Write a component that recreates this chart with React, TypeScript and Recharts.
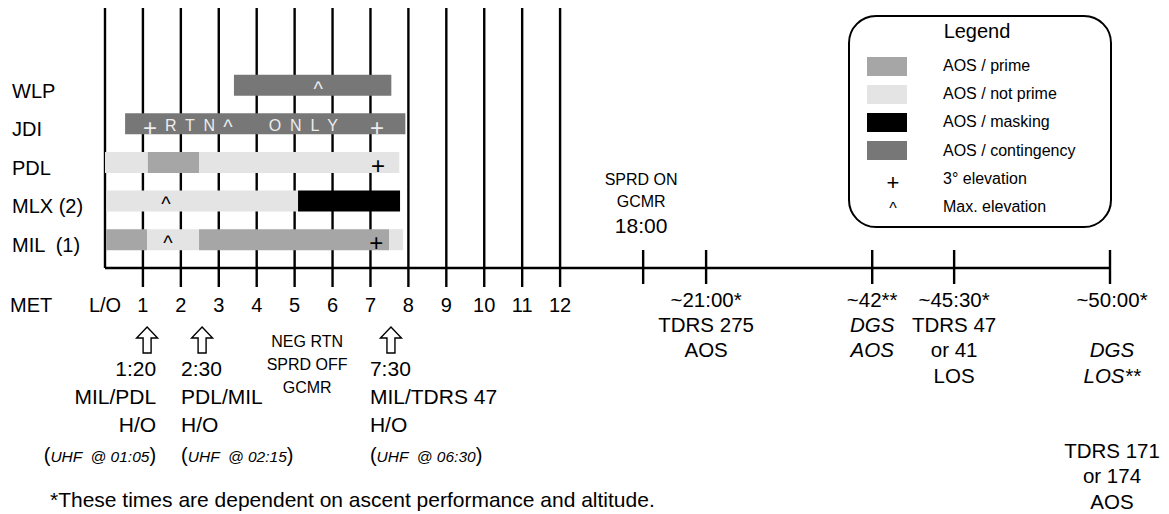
import React from 'react';
import {
  ComposedChart,
  Bar,
  Cell,
  XAxis,
  YAxis,
  CartesianGrid,
  ReferenceDot,
} from 'recharts';

const FONT = '"Liberation Sans", Arial, Helvetica, sans-serif';

// ground stations, top to bottom
const stations = ['WLP', 'JDI', 'PDL', 'MLX (2)', 'MIL  (1)'];

type Kind = 'prime' | 'notPrime' | 'masking' | 'contingency';
type Segment = { from: number; to: number; kind: Kind };

// coverage in minutes after lift-off
const wlpCoverage: Segment[] = [{ from: 3.4, to: 7.55, kind: 'contingency' }];
const jdiCoverage: Segment[] = [{ from: 0.53, to: 7.92, kind: 'contingency' }];
const pdlCoverage: Segment[] = [
  { from: 0, to: 1.13, kind: 'notPrime' },
  { from: 1.13, to: 2.48, kind: 'prime' },
  { from: 2.48, to: 7.76, kind: 'notPrime' },
];
const mlxCoverage: Segment[] = [
  { from: 0.04, to: 5.09, kind: 'notPrime' },
  { from: 5.09, to: 7.78, kind: 'masking' },
];
const milCoverage: Segment[] = [
  { from: 0.03, to: 1.11, kind: 'prime' },
  { from: 1.11, to: 2.48, kind: 'notPrime' },
  { from: 2.48, to: 7.49, kind: 'prime' },
  { from: 7.49, to: 7.86, kind: 'notPrime' },
];
const coverage = [wlpCoverage, jdiCoverage, pdlCoverage, mlxCoverage, milCoverage];

// + = 3 deg elevation, ^ = max elevation
const elevationMarks = [
  { station: 'WLP', at: 5.62, mark: '^' },
  { station: 'JDI', at: 1.19, mark: '+' },
  { station: 'JDI', at: 3.24, mark: '^' },
  { station: 'JDI', at: 7.17, mark: '+' },
  { station: 'PDL', at: 7.2, mark: '+' },
  { station: 'MLX (2)', at: 1.61, mark: '^' },
  { station: 'MIL  (1)', at: 1.66, mark: '^' },
  { station: 'MIL  (1)', at: 7.15, mark: '+' },
];
const jdiNote = [
  { at: 2.27, text: 'R T N' },
  { at: 5.26, text: 'O N L Y' },
];

const metMinutes = [0, 1, 2, 3, 4, 5, 6, 7, 8, 9, 10, 11, 12];
const metLabels = ['L/O', '1', '2', '3', '4', '5', '6', '7', '8', '9', '10', '11', '12'];

// axis is broken after 12 min: minute -> axis unit
const axisBreaks = [
  { minute: 0, unit: 0 },
  { minute: 12, unit: 12 },
  { minute: 18, unit: 14.19 },
  { minute: 21, unit: 15.85 },
  { minute: 42, unit: 20.23 },
  { minute: 45.5, unit: 22.39 },
  { minute: 50, unit: 26.5 },
];

const toUnit = (minute: number) => {
  const hit = axisBreaks.find((b) => b.minute === minute);
  if (hit) return hit.unit;
  for (let i = 1; i < axisBreaks.length; i++) {
    const a = axisBreaks[i - 1];
    const b = axisBreaks[i];
    if (minute <= b.minute) {
      return a.unit + ((minute - a.minute) / (b.minute - a.minute)) * (b.unit - a.unit);
    }
  }
  return axisBreaks[axisBreaks.length - 1].unit;
};

type Line = { text: string; italic?: boolean };
const events: { minute: number; above?: string[]; time?: string; lines: Line[] }[] = [
  { minute: 18, above: ['SPRD ON', 'GCMR'], time: '18:00', lines: [] },
  { minute: 21, lines: [{ text: '~21:00*' }, { text: 'TDRS 275' }, { text: 'AOS' }] },
  {
    minute: 42,
    lines: [{ text: '~42**' }, { text: 'DGS', italic: true }, { text: 'AOS', italic: true }],
  },
  {
    minute: 45.5,
    lines: [{ text: '~45:30*' }, { text: 'TDRS 47' }, { text: 'or 41' }, { text: 'LOS' }],
  },
  {
    minute: 50,
    lines: [
      { text: '~50:00*' },
      { text: '' },
      { text: 'DGS', italic: true },
      { text: 'LOS**', italic: true },
      { text: '' },
      { text: '' },
      { text: 'TDRS 171' },
      { text: 'or 174' },
      { text: 'AOS' },
    ],
  },
];

const handovers = [
  { at: 1.11, time: '1:20', link: 'MIL/PDL', uhf: '01:05', side: 'left' },
  { at: 2.56, time: '2:30', link: 'PDL/MIL', uhf: '02:15', side: 'right' },
  { at: 7.54, time: '7:30', link: 'MIL/TDRS 47', uhf: '06:30', side: 'right' },
];
const sprdOffNote = { at: 5.33, lines: ['NEG RTN', 'SPRD OFF', 'GCMR'] };

const legendItems: { label: string; kind?: Kind; mark?: string }[] = [
  { label: 'AOS / prime', kind: 'prime' },
  { label: 'AOS / not prime', kind: 'notPrime' },
  { label: 'AOS / masking', kind: 'masking' },
  { label: 'AOS / contingency', kind: 'contingency' },
  { label: '3° elevation', mark: '+' },
  { label: 'Max. elevation', mark: '^' },
];

const colors: Record<Kind, string> = {
  prime: '#a6a6a6',
  notPrime: '#e4e4e4',
  masking: '#000000',
  contingency: '#777777',
};

const chartRows = stations.map((station, i) => ({ station, segs: coverage[i] }));
const segSlots = [0, 1, 2, 3];
const lastUnit = axisBreaks[axisBreaks.length - 1].unit;
const same = (a: number, b: number) => Math.abs(a - b) < 1e-6;

const xTicks = [
  ...metMinutes,
  ...events.map((e) => toUnit(e.minute)),
  ...handovers.map((h) => h.at),
  sprdOffNote.at,
];

const arrowPath = (cx: number, top: number) =>
  `M${cx},${top} L${cx + 10.5},${top + 11} L${cx + 4},${top + 11} L${cx + 4},${top + 26} ` +
  `L${cx - 4},${top + 26} L${cx - 4},${top + 11} L${cx - 10.5},${top + 11} Z`;

const renderXTick = (props: any) => {
  const { x, y, payload } = props;
  const v = payload.value;

  const met = metMinutes.findIndex((m) => same(m, v));
  if (met >= 0) {
    return (
      <g>
        {v > 0 && <line x1={x} x2={x} y1={y} y2={y + 19} stroke="#000" strokeWidth={2.4} />}
        <text x={x} y={y + 44} textAnchor="middle" fontSize={20} fill="#000">
          {metLabels[met]}
        </text>
        {v === 0 && (
          <text x={x - 95} y={y + 44} fontSize={20} fill="#000">
            MET
          </text>
        )}
      </g>
    );
  }

  const ev = events.find((e) => same(toUnit(e.minute), v));
  if (ev) {
    const dx = same(v, lastUnit) ? 2 : 0;
    return (
      <g>
        <line x1={x} x2={x} y1={y - 18} y2={y + 16} stroke="#000" strokeWidth={2.4} />
        {ev.above &&
          ev.above.map((t, k) => (
            <text key={t} x={x - 2} y={y - 83 + k * 22} textAnchor="middle" fontSize={16} fill="#000">
              {t}
            </text>
          ))}
        {ev.time && (
          <text x={x - 2} y={y - 35} textAnchor="middle" fontSize={21} fill="#000">
            {ev.time}
          </text>
        )}
        {ev.lines.map((l, k) =>
          l.text ? (
            <text
              key={k}
              x={x + dx}
              y={y + 39 + k * 25.2}
              textAnchor="middle"
              fontSize={20.5}
              fontStyle={l.italic ? 'italic' : 'normal'}
              fill="#000"
            >
              {l.text}
            </text>
          ) : null,
        )}
      </g>
    );
  }

  const h = handovers.find((d) => same(d.at, v));
  if (h) {
    const left = h.side === 'left';
    const tx = left ? x + 9 : x - 21;
    const anchor = left ? 'end' : 'start';
    return (
      <g>
        <path d={arrowPath(x, y + 59)} fill="#fff" stroke="#000" strokeWidth={1.4} />
        <text x={tx} y={y + 108} textAnchor={anchor} fontSize={21} fill="#000">
          {h.time}
        </text>
        <text x={tx} y={y + 136} textAnchor={anchor} fontSize={21} fill="#000">
          {h.link}
        </text>
        <text x={tx} y={y + 164} textAnchor={anchor} fontSize={21} fill="#000">
          H/O
        </text>
        <text x={tx} y={y + 194} textAnchor={anchor} fontSize={20} fill="#000" style={{ whiteSpace: 'pre' }}>
          (
          <tspan fontStyle="italic" fontSize={15.5}>{`UHF  @ ${h.uhf}`}</tspan>)
        </text>
      </g>
    );
  }

  if (same(sprdOffNote.at, v)) {
    return (
      <g>
        {sprdOffNote.lines.map((t, k) => (
          <text key={t} x={x} y={y + 79 + k * 23} textAnchor="middle" fontSize={16} fill="#000">
            {t}
          </text>
        ))}
      </g>
    );
  }
  return <g />;
};

const renderYTick = (props: any) => {
  const { y, payload } = props;
  return (
    <text x={4} y={y + 12.5} fontSize={20} fill="#000" style={{ whiteSpace: 'pre' }}>
      {payload.value}
    </text>
  );
};

const markShape = (mark: string, light: boolean) => (p: any) => (
  <text
    x={p.cx}
    y={p.cy + (mark === '+' ? 12 : 10.5)}
    textAnchor="middle"
    fontSize={mark === '+' ? 24 : 20}
    fill={light ? '#ececec' : '#000'}
  >
    {mark}
  </text>
);

const noteShape = (text: string) => (p: any) => (
  <text
    x={p.cx}
    y={p.cy + 7.5}
    textAnchor="middle"
    fontSize={16}
    letterSpacing={2.2}
    fill="#ececec"
  >
    {text}
  </text>
);

const LegendBox = () => (
  <div
    style={{
      position: 'absolute',
      left: 840,
      top: 7,
      width: 264,
      height: 213,
      border: '2px solid #000',
      borderRadius: 28,
      boxSizing: 'border-box',
    }}
  >
    <div
      style={{
        position: 'absolute',
        left: -3,
        width: '100%',
        top: 4,
        textAlign: 'center',
        fontSize: 20,
        lineHeight: '20px',
      }}
    >
      Legend
    </div>
    {legendItems.map((item, i) => {
      const c = 49 + i * 28.2;
      return (
        <React.Fragment key={item.label}>
          {item.kind ? (
            <div
              style={{
                position: 'absolute',
                left: 17,
                top: c - 9.5,
                width: 40,
                height: 19,
                background: colors[item.kind],
              }}
            />
          ) : (
            <div
              style={{
                position: 'absolute',
                left: 23,
                width: 40,
                textAlign: 'center',
                top: item.mark === '+' ? c - 6 : c - 8,
                fontSize: item.mark === '+' ? 22 : 16,
                lineHeight: '20px',
              }}
            >
              {item.mark}
            </div>
          )}
          <div
            style={{
              position: 'absolute',
              left: 93,
              top: c - 8,
              fontSize: 16,
              lineHeight: '16px',
              whiteSpace: 'nowrap',
            }}
          >
            {item.label}
          </div>
        </React.Fragment>
      );
    })}
  </div>
);

export default function App() {
  return (
    <div style={{ position: 'relative', width: 1153, height: 506, fontFamily: FONT, color: '#000' }}>
      <ComposedChart
        width={1153}
        height={506}
        data={chartRows}
        layout="vertical"
        margin={{ top: 0, right: 51, bottom: 0, left: 0 }}
        barGap={-21}
        style={{ fontFamily: FONT }}
      >
        <CartesianGrid
          horizontal={false}
          verticalValues={metMinutes}
          stroke="#000"
          strokeWidth={2.4}
        />
        <XAxis
          type="number"
          domain={[0, lastUnit]}
          ticks={xTicks}
          interval={0}
          tick={renderXTick}
          tickLine={false}
          tickSize={0}
          tickMargin={0}
          axisLine={{ stroke: '#000', strokeWidth: 2.4 }}
          height={246}
          allowDataOverflow
        />
        <YAxis
          type="category"
          dataKey="station"
          width={97}
          axisLine={false}
          tickLine={false}
          tick={renderYTick}
          interval={0}
          padding={{ top: 57.7, bottom: 9.2 }}
        />
        {segSlots.map((slot) => (
          <Bar
            key={slot}
            dataKey={(d: any) => (d.segs[slot] ? [d.segs[slot].from, d.segs[slot].to] : null)}
            barSize={21}
            isAnimationActive={false}
          >
            {chartRows.map((r, j) => (
              <Cell key={j} fill={r.segs[slot] ? colors[r.segs[slot].kind] : 'none'} />
            ))}
          </Bar>
        ))}
        {elevationMarks.map((m, i) => (
          <ReferenceDot
            key={`m${i}`}
            x={m.at}
            y={m.station}
            r={0}
            shape={markShape(m.mark, m.station === 'WLP' || m.station === 'JDI')}
          />
        ))}
        {jdiNote.map((n) => (
          <ReferenceDot key={n.text} x={n.at} y="JDI" r={0} shape={noteShape(n.text)} />
        ))}
      </ComposedChart>
      <LegendBox />
      <div
        style={{
          position: 'absolute',
          left: 42,
          top: 482,
          fontSize: 21,
          lineHeight: '20px',
          whiteSpace: 'nowrap',
        }}
      >
        *These times are dependent on ascent performance and altitude.
      </div>
    </div>
  );
}
